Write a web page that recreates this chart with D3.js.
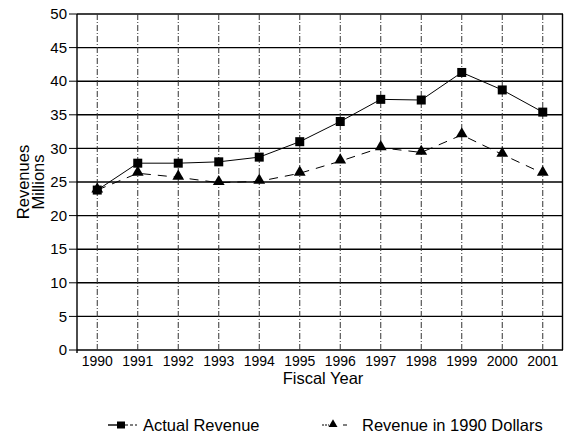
<!DOCTYPE html>
<html>
<head>
<meta charset="utf-8">
<script src="https://cdn.jsdelivr.net/npm/d3@7"></script>
<style>
  body { margin: 0; background: #fff; }
  text { font-family: "Liberation Sans", Arial, sans-serif; fill: #000; }
</style>
</head>
<body>
<div id="chart"></div>
<script>
// chart data
const years = ['1990','1991','1992','1993','1994','1995','1996','1997','1998','1999','2000','2001'];
const actualRevenue = [23.8, 27.8, 27.8, 28.0, 28.7, 31.0, 34.0, 37.3, 37.2, 41.3, 38.7, 35.4];
const revenue1990 = [23.8, 26.3, 25.7, 24.9, 25.1, 26.3, 28.1, 30.1, 29.4, 32.0, 29.1, 26.3];
const yTicks = [0, 5, 10, 15, 20, 25, 30, 35, 40, 45, 50];

const width = 564, height = 436;
const margin = { top: 14, right: 1, bottom: 86, left: 77 };

const svg = d3.select('#chart').append('svg')
    .attr('width', width)
    .attr('height', height);

const x = d3.scalePoint()
    .domain(years)
    .range([margin.left, width - margin.right])
    .padding(0.5);

const y = d3.scaleLinear()
    .domain([0, 50])
    .range([height - margin.bottom, margin.top]);

// horizontal grid lines
svg.append('g')
    .selectAll('line')
    .data(yTicks)
    .enter().append('line')
    .attr('x1', margin.left)
    .attr('x2', width - margin.right)
    .attr('y1', d => y(d))
    .attr('y2', d => y(d))
    .attr('stroke', '#000')
    .attr('stroke-width', 1.4);

// vertical dash-dot grid lines
svg.append('g')
    .selectAll('line')
    .data(years)
    .enter().append('line')
    .attr('x1', d => x(d))
    .attr('x2', d => x(d))
    .attr('y1', y(50))
    .attr('y2', y(0))
    .attr('stroke', '#333')
    .attr('stroke-width', 1)
    .attr('stroke-dasharray', '6,2,1,2');

// left and right borders
svg.append('line')
    .attr('x1', margin.left).attr('x2', margin.left)
    .attr('y1', y(50)).attr('y2', y(0) + 3)
    .attr('stroke', '#000').attr('stroke-width', 1.4);
svg.append('line')
    .attr('x1', width - margin.right - 0.5).attr('x2', width - margin.right - 0.5)
    .attr('y1', y(50)).attr('y2', y(0))
    .attr('stroke', '#000').attr('stroke-width', 1.4);

// y axis tick labels
svg.append('g')
    .selectAll('text')
    .data(yTicks)
    .enter().append('text')
    .attr('x', margin.left - 10)
    .attr('y', d => y(d))
    .attr('dy', '0.35em')
    .attr('text-anchor', 'end')
    .style('font-size', '15px')
    .text(d => d);

// small tick marks on the y axis
svg.append('g')
    .selectAll('line')
    .data(yTicks)
    .enter().append('line')
    .attr('x1', margin.left - 8)
    .attr('x2', margin.left)
    .attr('y1', d => y(d))
    .attr('y2', d => y(d))
    .attr('stroke', '#000');

// x axis tick labels
svg.append('g')
    .selectAll('text')
    .data(years)
    .enter().append('text')
    .attr('x', d => x(d))
    .attr('y', y(0) + 16)
    .attr('text-anchor', 'middle')
    .style('font-size', '14px')
    .text(d => d);

// axis titles
svg.append('text')
    .attr('transform', `translate(29,${y(25)}) rotate(-90)`)
    .attr('text-anchor', 'middle')
    .style('font-size', '16.5px')
    .text('Revenues');
svg.append('text')
    .attr('transform', `translate(44,${y(25)}) rotate(-90)`)
    .attr('text-anchor', 'middle')
    .style('font-size', '16.5px')
    .text('Millions');
svg.append('text')
    .attr('x', 323)
    .attr('y', y(0) + 34)
    .attr('text-anchor', 'middle')
    .style('font-size', '16.5px')
    .text('Fiscal Year');

const line = d3.line()
    .x((d, i) => x(years[i]))
    .y(d => y(d));

// actual revenue series
svg.append('path')
    .datum(actualRevenue)
    .attr('d', line)
    .attr('fill', 'none')
    .attr('stroke', '#000')
    .attr('stroke-width', 1);

svg.append('g')
    .selectAll('rect')
    .data(actualRevenue)
    .enter().append('rect')
    .attr('x', (d, i) => x(years[i]) - 4.5)
    .attr('y', d => y(d) - 4.5)
    .attr('width', 9)
    .attr('height', 9)
    .attr('fill', '#000');

// revenue in 1990 dollars series
svg.append('path')
    .datum(revenue1990)
    .attr('d', line)
    .attr('fill', 'none')
    .attr('stroke', '#000')
    .attr('stroke-width', 1)
    .attr('stroke-dasharray', '9,7');

const tri = d3.symbol().type(d3.symbolTriangle).size(60);
svg.append('g')
    .selectAll('path')
    .data(revenue1990)
    .enter().append('path')
    .attr('d', tri)
    .attr('transform', (d, i) => `translate(${x(years[i])},${y(d) - 1})`)
    .attr('fill', '#000');

// legend
const legY = 425;
const leg = svg.append('g');
leg.append('line')
    .attr('x1', 108).attr('x2', 117)
    .attr('y1', legY).attr('y2', legY)
    .attr('stroke', '#000').attr('stroke-width', 1.4);
leg.append('line')
    .attr('x1', 125).attr('x2', 137)
    .attr('y1', legY).attr('y2', legY)
    .attr('stroke', '#000').attr('stroke-dasharray', '3,2');
leg.append('rect')
    .attr('x', 117).attr('y', legY - 3.5)
    .attr('width', 8).attr('height', 7)
    .attr('fill', '#000');
leg.append('text')
    .attr('x', 143).attr('y', legY)
    .attr('dy', '0.35em')
    .style('font-size', '16.5px')
    .text('Actual Revenue');

leg.append('line')
    .attr('x1', 322).attr('x2', 329)
    .attr('y1', legY).attr('y2', legY)
    .attr('stroke', '#000').attr('stroke-dasharray', '2,1');
leg.append('line')
    .attr('x1', 343).attr('x2', 347)
    .attr('y1', legY).attr('y2', legY)
    .attr('stroke', '#000');
leg.append('path')
    .attr('d', d3.symbol().type(d3.symbolTriangle).size(35))
    .attr('transform', `translate(333,${legY - 0.5})`)
    .attr('fill', '#000');
leg.append('text')
    .attr('x', 362).attr('y', legY)
    .attr('dy', '0.35em')
    .style('font-size', '16.5px')
    .text('Revenue in 1990 Dollars');
</script>
</body>
</html>
